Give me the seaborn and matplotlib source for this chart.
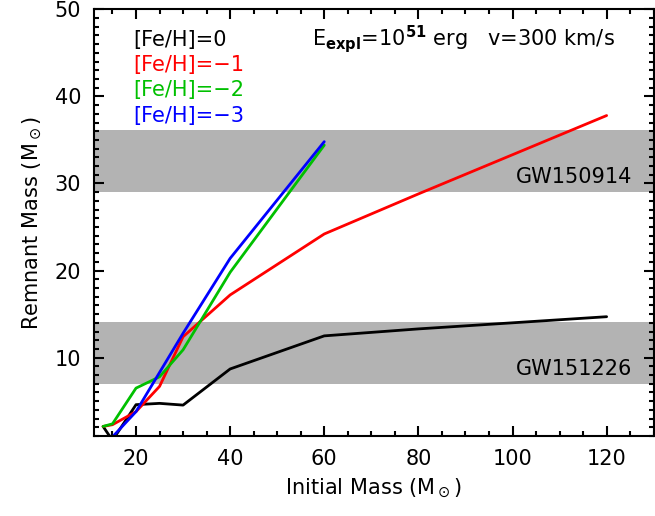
import numpy as np
import pandas as pd
import matplotlib
matplotlib.use("Agg")
import matplotlib.pyplot as plt
from matplotlib.ticker import MultipleLocator
import seaborn as sns

# ---- data ----
mass_fe0 = [13, 15, 20, 25, 30, 40, 60, 80, 120]
rem_fe0 = [2.1, 0.5, 4.6, 4.75, 4.55, 8.7, 12.5, 13.3, 14.7]

mass_fe1 = [13, 15, 20, 25, 30, 40, 60, 80, 120]
rem_fe1 = [2.1, 2.3, 3.8, 6.7, 12.4, 17.2, 24.2, 28.8, 37.8]

mass_fe2 = [13, 15, 20, 25, 30, 40, 60]
rem_fe2 = [2.1, 2.4, 6.5, 7.8, 10.9, 19.8, 34.4]

mass_fe3 = [15, 20, 25, 30, 40, 60]
rem_fe3 = [0.9, 3.8, 8.3, 12.8, 21.4, 34.8]

series_labels = ["[Fe/H]=0", "[Fe/H]=\u22121", "[Fe/H]=\u22122", "[Fe/H]=\u22123"]
series_colors = ["#000000", "#FF0000", "#00C000", "#0000FF"]

band_names = ["GW150914", "GW151226"]
band_low = [29.0, 7.0]
band_high = [36.1, 14.1]

masses = [mass_fe0, mass_fe1, mass_fe2, mass_fe3]
remnants = [rem_fe0, rem_fe1, rem_fe2, rem_fe3]

rows = []
for lab, ms, rs in zip(series_labels, masses, remnants):
    for m, r in zip(ms, rs):
        rows.append({"mass": m, "remnant": r, "feh": lab})
df = pd.DataFrame(rows)

sns.set_style("ticks")
plt.rcParams["font.family"] = ["DejaVu Sans"]
plt.rcParams["mathtext.fontset"] = "dejavusans"
plt.rcParams["text.color"] = "black"
plt.rcParams["axes.labelcolor"] = "black"
plt.rcParams["xtick.color"] = "black"
plt.rcParams["ytick.color"] = "black"

fig = plt.figure(figsize=(6.55, 5.16), dpi=100)
ax = fig.add_axes([0.143, 0.155, 0.855, 0.827])

for lo, hi in zip(band_low, band_high):
    ax.axhspan(lo, hi, color="#B3B3B3", lw=0, zorder=0)

sns.lineplot(data=df, x="mass", y="remnant", hue="feh",
             hue_order=series_labels, palette=series_colors,
             estimator=None, sort=False, linewidth=2.0, legend=False, ax=ax)

ax.set_xlim(11, 130)
ax.set_ylim(1, 50)
ax.xaxis.set_major_locator(MultipleLocator(20))
ax.xaxis.set_minor_locator(MultipleLocator(5))
ax.yaxis.set_major_locator(MultipleLocator(10))
ax.yaxis.set_minor_locator(MultipleLocator(1))
ax.tick_params(which="both", direction="in", top=True, right=True, width=1.5,
               labelsize=15, colors="black")
ax.tick_params(which="major", length=7, pad=9)
ax.tick_params(which="minor", length=3.5)
for s in ax.spines.values():
    s.set_linewidth(1.5)
    s.set_color("black")

ax.set_xlabel(r"Initial Mass (M$_\odot$)", fontsize=15, labelpad=6, color="black")
ax.set_ylabel(r"Remnant Mass (M$_\odot$)", fontsize=15, labelpad=8, color="black")

ys = [46.5, 43.6, 40.7, 37.8]
for lab, c, y in zip(series_labels, series_colors, ys):
    ax.text(19.4, y, lab, color=c, fontsize=15, ha="left", va="center")

ax.text(57.3, 46.6, r"E$_{\mathbf{expl}}$=10$^{\mathbf{51}}$ erg   v=300 km/s",
        fontsize=15, ha="left", va="center", color="black")

for name, lo, hi in zip(band_names, band_low, band_high):
    ax.text(113, lo + 1.7, name, fontsize=15, ha="center", va="center", color="black")

fig.savefig("out.png", dpi=100)
